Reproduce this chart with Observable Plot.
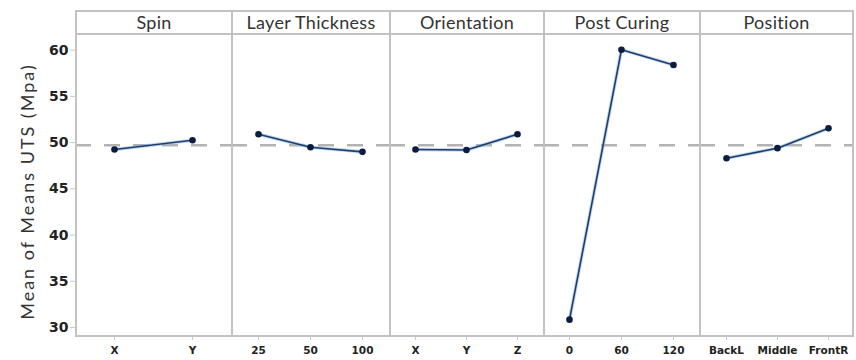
<!DOCTYPE html>
<html><head><meta charset="utf-8">
<script src="https://cdn.jsdelivr.net/npm/d3@7"></script>
<script src="https://cdn.jsdelivr.net/npm/@observablehq/plot@0.6"></script>
<style>
html,body{margin:0;padding:0;background:#fff;}
#chart{position:relative;width:856px;height:360px;display:flex;font-family:Lato,"Open Sans",sans-serif;}
.col{position:relative;flex:none;}
.col svg{display:block;overflow:visible;}
.box{position:absolute;top:10px;height:327px;box-sizing:border-box;border-top:2px solid #c2c2c2;border-bottom:2px solid #c2c2c2;border-left:2px solid #c2c2c2;pointer-events:none;}
.box.last{border-right:2px solid #c2c2c2;}
.hdr{position:absolute;left:0;right:0;top:0;height:21px;border-bottom:2px solid #c2c2c2;text-align:center;font-size:18px;letter-spacing:0.3px;line-height:21px;color:#333;}
svg [aria-label="y-axis tick label"] text{font-family:"DejaVu Sans",sans-serif;font-weight:bold;font-size:14px;fill:#222;}
svg [aria-label="x-axis tick label"] text{font-family:"DejaVu Sans",sans-serif;font-weight:bold;font-size:10.5px;fill:#222;}
svg [aria-label="x-axis tick"], svg [aria-label="y-axis tick"]{color:#c8c8c8;}
.ylab text{font-size:18px;letter-spacing:2px;fill:#333;}
</style>
</head><body>
<div id="chart"></div>
<script>
const factors = ["Spin", "Layer Thickness", "Orientation", "Post Curing", "Position"];
const levels = [
  ["X", "Y"],
  ["25", "50", "100"],
  ["X", "Y", "Z"],
  ["0", "60", "120"],
  ["BackL", "Middle", "FrontR"]
];
const means = [
  [49.25, 50.25],
  [50.9, 49.5, 49.0],
  [49.25, 49.2, 50.9],
  [30.85, 60.05, 58.4],
  [48.3, 49.4, 51.55]
];
const grandMean = 49.7;
const yTicks = [30, 35, 40, 45, 50, 55, 60];
const yLabel = "Mean of Means UTS (Mpa)";

const panelWidths = [156, 158, 154, 156, 155];
const leftMargin = 75;
const chart = document.getElementById("chart");

factors.forEach((f, i) => {
  const data = levels[i].map((lv, j) => ({level: lv, value: means[i][j]}));
  const ml = i === 0 ? leftMargin : 0;
  const w = panelWidths[i] + ml;
  const marks = [
    Plot.ruleY([grandMean], {stroke: "#b3b3b3", strokeWidth: 2.5, strokeDasharray: "16,13"}),
    Plot.line(data, {x: "level", y: "value", stroke: "#8db9dc", strokeWidth: 3.5, strokeOpacity: 0.55}),
    Plot.line(data, {x: "level", y: "value", stroke: "#1f3d6d", strokeWidth: 1.6}),
    Plot.dot(data, {x: "level", y: "value", r: 3.3, fill: "#0b1c40", stroke: "none"})
  ];
  if (i === 0) {
    marks.push(Plot.text([yLabel], {frameAnchor: "left", textAnchor: "middle", rotate: -90, dx: -47, dy: 6, text: d => d, className: "ylab", fill: "#333"}));
  }
  const plot = Plot.plot({
    width: w,
    height: 360,
    marginLeft: ml,
    marginRight: 0,
    marginTop: 33,
    marginBottom: 23,
    style: {fontFamily: "Lato, 'Open Sans', sans-serif", fontSize: "13px", background: "white", overflow: "visible"},
    x: {type: "point", domain: levels[i], padding: 0.5, label: null, tickSize: 3, tickPadding: 6},
    y: {
      domain: [28.92, 61.8],
      ticks: yTicks,
      tickSize: 5,
      tickPadding: 2,
      label: null,
      axis: i === 0 ? "left" : null
    },
    marks
  });
  const col = document.createElement("div");
  col.className = "col";
  col.style.width = w + "px";
  col.appendChild(plot);
  const box = document.createElement("div");
  box.className = "box" + (i === factors.length - 1 ? " last" : "");
  box.style.left = ml + "px";
  box.style.width = panelWidths[i] + "px";
  const hdr = document.createElement("div");
  hdr.className = "hdr";
  hdr.textContent = f;
  box.appendChild(hdr);
  col.appendChild(box);
  chart.appendChild(col);
});
</script>
</body></html>
